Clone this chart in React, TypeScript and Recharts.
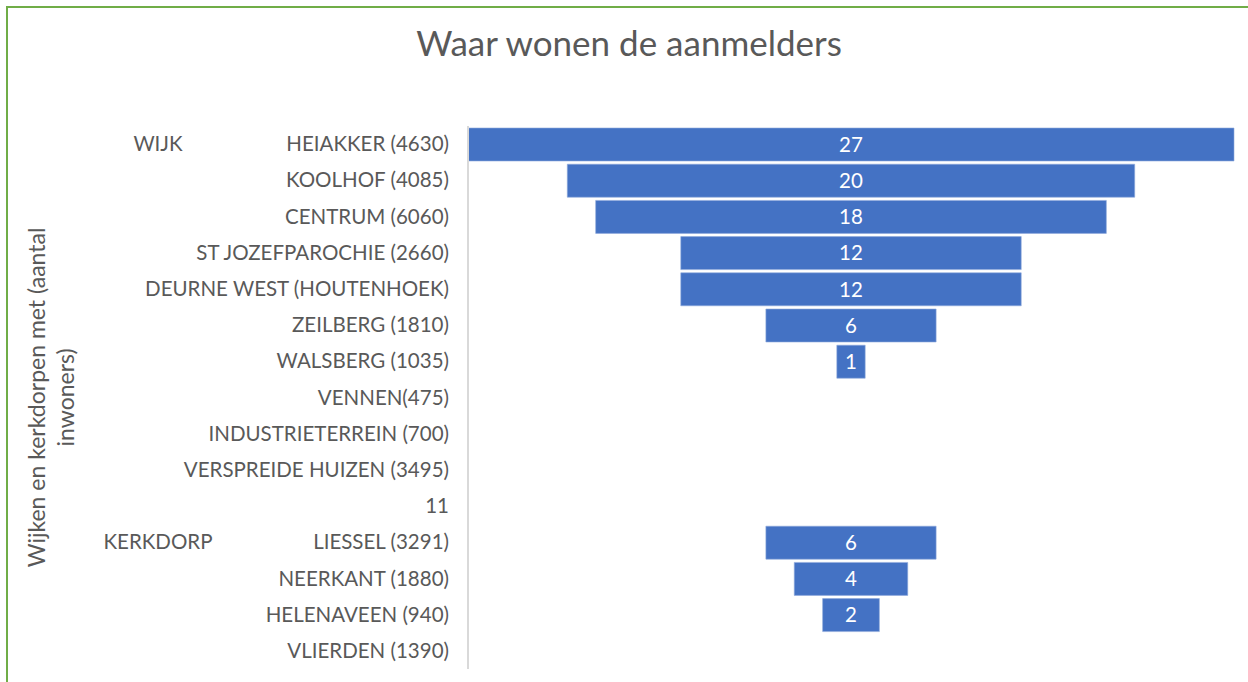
import React from 'react';
import { BarChart, Bar, XAxis, YAxis, LabelList } from 'recharts';

// rows from top to bottom, as in the funnel
const categories = [
  'HEIAKKER (4630)',
  'KOOLHOF (4085)',
  'CENTRUM (6060)',
  'ST JOZEFPAROCHIE (2660)',
  'DEURNE WEST (HOUTENHOEK)',
  'ZEILBERG (1810)',
  'WALSBERG (1035)',
  'VENNEN(475)',
  'INDUSTRIETERREIN (700)',
  'VERSPREIDE HUIZEN (3495)',
  '11',
  'LIESSEL (3291)',
  'NEERKANT (1880)',
  'HELENAVEEN (940)',
  'VLIERDEN (1390)',
];
const aanmelders: (number | null)[] = [27, 20, 18, 12, 12, 6, 1, null, null, null, null, 6, 4, 2, null];
const groups = ['WIJK', '', '', '', '', '', '', '', '', '', '', 'KERKDORP', '', '', ''];

const maxValue = Math.max(...aanmelders.map((v) => v ?? 0));

// invisible padding bar centres each value bar -> funnel shape
const data = categories.map((name, i) => {
  const v = aanmelders[i];
  return {
    name,
    group: groups[i],
    pad: v == null ? null : (maxValue - v) / 2,
    value: v,
  };
});

const TEXT = '#595959';
const FONT = 'Lato, "Open Sans", sans-serif';

const CategoryTick = ({ x, y, payload, index }: any) => {
  const group = groups[index];
  return (
    <g>
      {group ? (
        <text x={158} y={y} dy={7} textAnchor="middle" fill={TEXT} fontSize={20.5} fontFamily={FONT}>
          {group}
        </text>
      ) : null}
      <text x={x} y={y} dy={7} textAnchor="end" fill={TEXT} fontSize={20.5} fontFamily={FONT}>
        {payload.value}
      </text>
    </g>
  );
};

const AxisTitle = ({ viewBox }: any) => {
  const cy = viewBox.y + viewBox.height / 2;
  return (
    <g transform={`rotate(-90 0 ${cy})`}>
      <text x={0} y={cy} textAnchor="middle" fill={TEXT} fontSize={23} fontFamily={FONT}>
        <tspan x={0} y={cy + 45}>Wijken en kerkdorpen met (aantal</tspan>
        <tspan x={0} y={cy + 74}>inwoners)</tspan>
      </text>
    </g>
  );
};

export default function App() {
  return (
    <div
      style={{
        position: 'absolute',
        left: 0,
        top: 0,
        width: 1248,
        height: 682,
        background: '#fff',
        overflow: 'hidden',
        fontFamily: FONT,
      }}
    >
      <div
        style={{
          position: 'absolute',
          left: 6,
          top: 6,
          right: -10,
          bottom: -10,
          borderTop: '2px solid #70AD47',
          borderLeft: '2px solid #70AD47',
        }}
      />
      <div
        style={{
          position: 'absolute',
          left: 0,
          width: 1258,
          top: 21,
          textAlign: 'center',
          fontSize: 35,
          color: TEXT,
        }}
      >
        Waar wonen de aanmelders
      </div>
      <div style={{ position: 'absolute', left: 0, top: 0 }}>
        <BarChart
          width={1248}
          height={682}
          data={data}
          layout="vertical"
          margin={{ top: 126, right: 14, bottom: 13, left: 0 }}
          barSize={33}
        >
          <XAxis type="number" domain={[0, maxValue]} hide />
          <YAxis
            type="category"
            dataKey="name"
            width={468}
            tickLine={false}
            tickMargin={13}
            axisLine={{ stroke: '#d9d9d9', strokeWidth: 2 }}
            tick={<CategoryTick />}
            interval={0}
            label={{ content: <AxisTitle /> }}
          />
          <Bar dataKey="pad" stackId="f" fill="transparent" isAnimationActive={false} />
          <Bar dataKey="value" stackId="f" fill="#4472C4" stroke="#8FAADC" strokeWidth={0.6} isAnimationActive={false}>
            <LabelList
              dataKey="value"
              position="center"
              fill="#ffffff"
              fontSize={20.5}
              fontFamily={FONT}
            />
          </Bar>
        </BarChart>
      </div>
    </div>
  );
}
